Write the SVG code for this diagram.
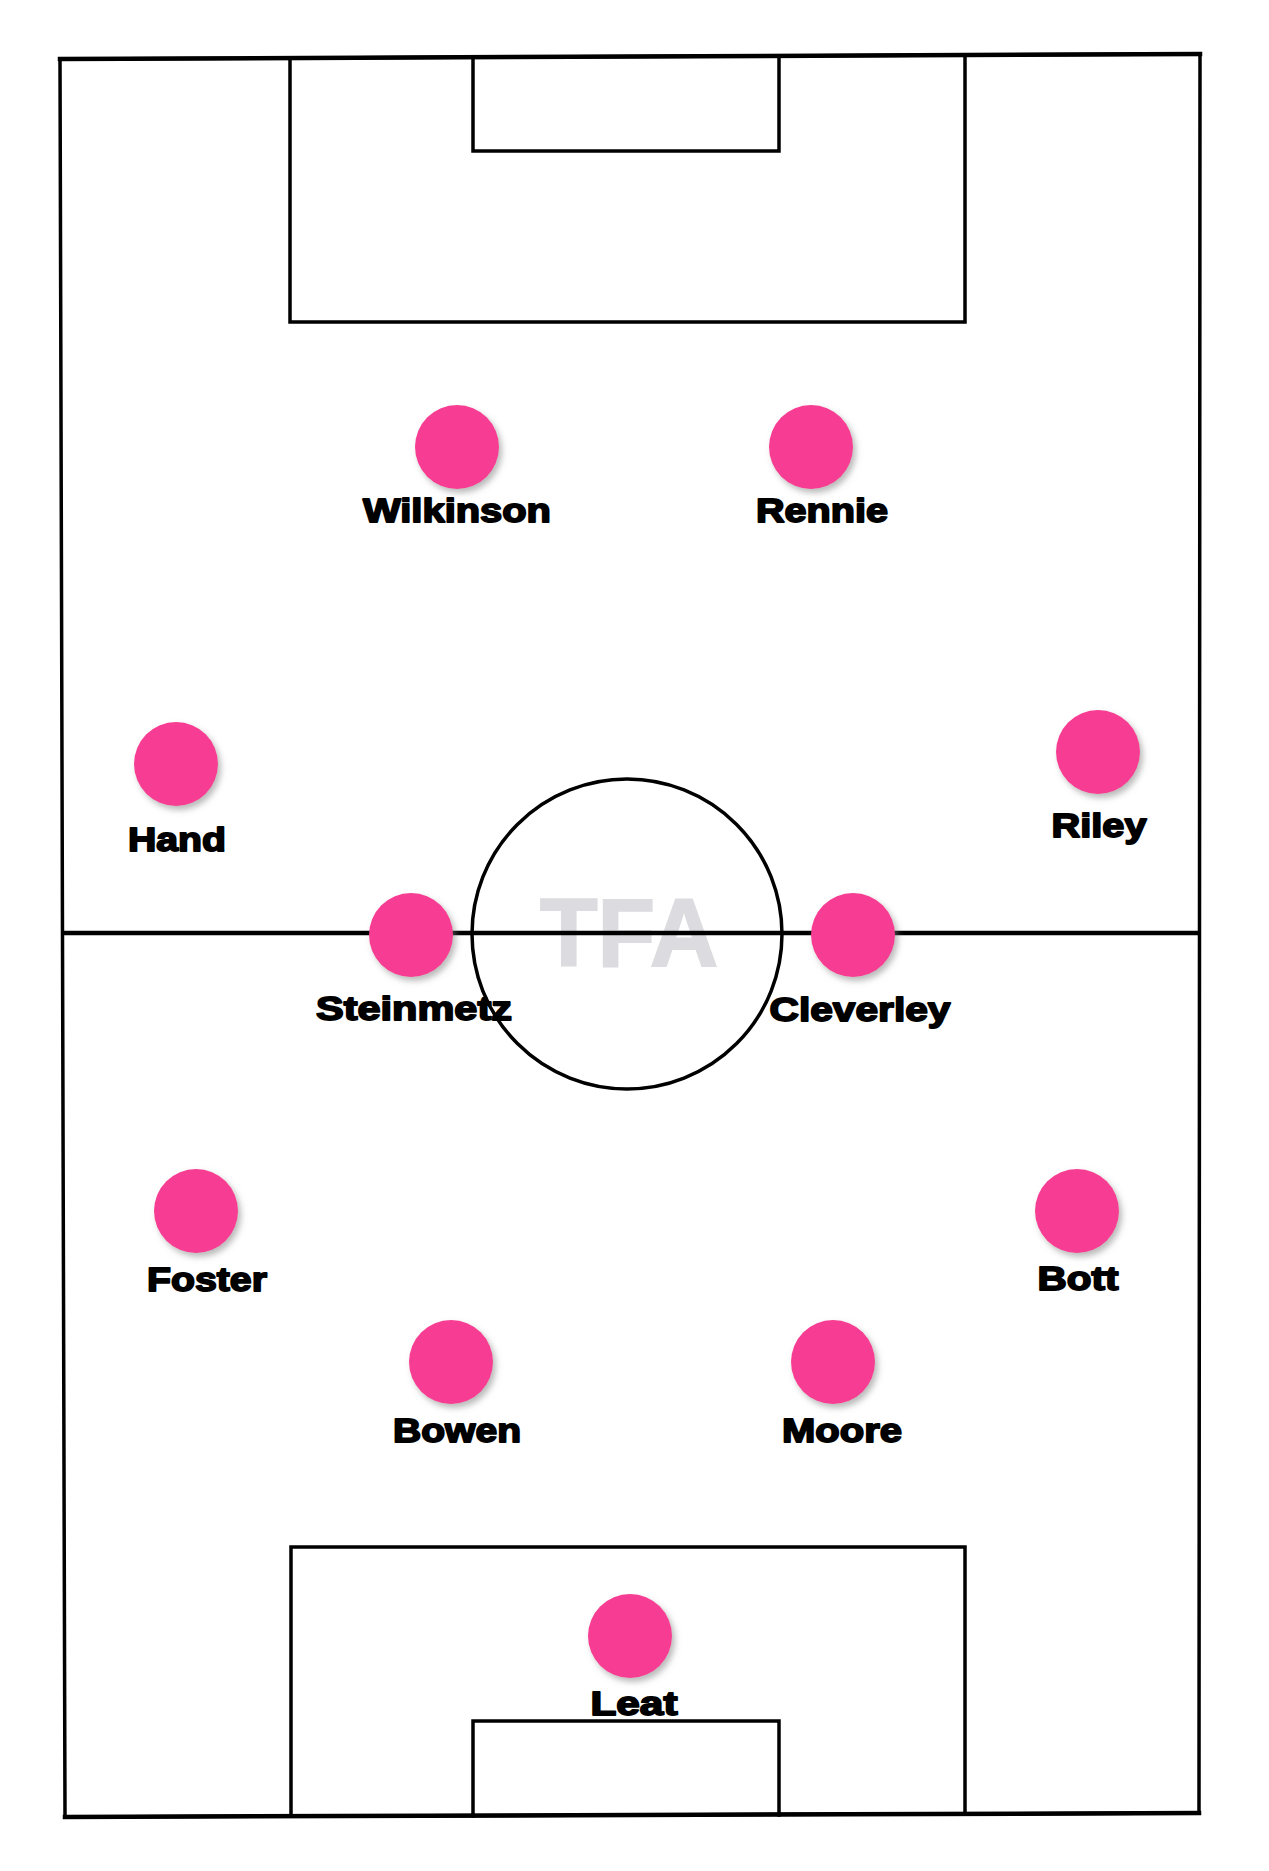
<svg xmlns="http://www.w3.org/2000/svg" width="1269" height="1871" viewBox="0 0 1269 1871">
  <defs>
    <filter id="shadow" x="-30%" y="-30%" width="170%" height="170%">
      <feDropShadow dx="3" dy="4" stdDeviation="3" flood-color="#808080" flood-opacity="0.55"/>
    </filter>
    <style>
      .line { fill: none; stroke: #000; stroke-width: 3.5; stroke-linecap: square; }
      .thick { stroke-width: 4.5; }
      .butt { stroke-linecap: butt; }
      .dot { fill: #f73e93; filter: url(#shadow); }
      .name { font-family: "Liberation Sans", Arial, sans-serif; font-weight: bold; font-size: 34px; fill: #000; stroke: #000; stroke-width: 1.8; stroke-linejoin: round; text-anchor: middle; }
      .wm { font-family: "Liberation Sans", Arial, sans-serif; font-weight: bold; font-size: 96px; fill: #dcdce0; stroke: #dcdce0; stroke-width: 2; text-anchor: middle; }
    </style>
  </defs>
  <rect x="0" y="0" width="1269" height="1871" fill="#ffffff"/>

  <g id="watermark">
    <text class="wm" x="629" y="966" textLength="178" lengthAdjust="spacingAndGlyphs">TFA</text>
  </g>

  <g id="pitch">
    <polygon class="line" points="60,59 1200,54 1199,1813 65,1817"/>
    <line class="line thick" x1="60" y1="59" x2="1200" y2="54"/>
    <line class="line thick" x1="65" y1="1817" x2="1199" y2="1813"/>
    <line class="line thick butt" x1="61" y1="933" x2="1199" y2="933"/>
    <circle class="line" cx="627" cy="934" r="155"/>
    <polyline class="line" points="290,58 290,322 965,322 965,55"/>
    <polyline class="line" points="473,57 473,151 779,151 779,56"/>
    <polyline class="line" points="291,1816 291,1547 965,1547 965,1814"/>
    <polyline class="line" points="473,1816 473,1721 779,1721 779,1815"/>
  </g>

  <g id="connectors"></g>

  <g id="player-wilkinson">
    <circle class="dot" cx="457" cy="447" r="42"/>
    <text class="name" x="457" y="522" textLength="188" lengthAdjust="spacingAndGlyphs">Wilkinson</text>
  </g>
  <g id="player-rennie">
    <circle class="dot" cx="811" cy="447" r="42"/>
    <text class="name" x="822" y="522" textLength="132" lengthAdjust="spacingAndGlyphs">Rennie</text>
  </g>
  <g id="player-hand">
    <circle class="dot" cx="176" cy="764" r="42"/>
    <text class="name" x="177" y="851" textLength="98" lengthAdjust="spacingAndGlyphs">Hand</text>
  </g>
  <g id="player-riley">
    <circle class="dot" cx="1098" cy="752" r="42"/>
    <text class="name" x="1099" y="837" textLength="95" lengthAdjust="spacingAndGlyphs">Riley</text>
  </g>
  <g id="player-steinmetz">
    <circle class="dot" cx="411" cy="935" r="42"/>
    <text class="name" x="414" y="1020" textLength="196" lengthAdjust="spacingAndGlyphs">Steinmetz</text>
  </g>
  <g id="player-cleverley">
    <circle class="dot" cx="853" cy="935" r="42"/>
    <text class="name" x="860" y="1021" textLength="181" lengthAdjust="spacingAndGlyphs">Cleverley</text>
  </g>
  <g id="player-foster">
    <circle class="dot" cx="196" cy="1211" r="42"/>
    <text class="name" x="207" y="1291" textLength="120" lengthAdjust="spacingAndGlyphs">Foster</text>
  </g>
  <g id="player-bott">
    <circle class="dot" cx="1077" cy="1211" r="42"/>
    <text class="name" x="1078" y="1290" textLength="81" lengthAdjust="spacingAndGlyphs">Bott</text>
  </g>
  <g id="player-bowen">
    <circle class="dot" cx="451" cy="1362" r="42"/>
    <text class="name" x="457" y="1442" textLength="128" lengthAdjust="spacingAndGlyphs">Bowen</text>
  </g>
  <g id="player-moore">
    <circle class="dot" cx="833" cy="1362" r="42"/>
    <text class="name" x="842" y="1442" textLength="120" lengthAdjust="spacingAndGlyphs">Moore</text>
  </g>
  <g id="player-leat">
    <circle class="dot" cx="630" cy="1636" r="42"/>
    <text class="name" x="634" y="1715" textLength="87" lengthAdjust="spacingAndGlyphs">Leat</text>
  </g>
</svg>
